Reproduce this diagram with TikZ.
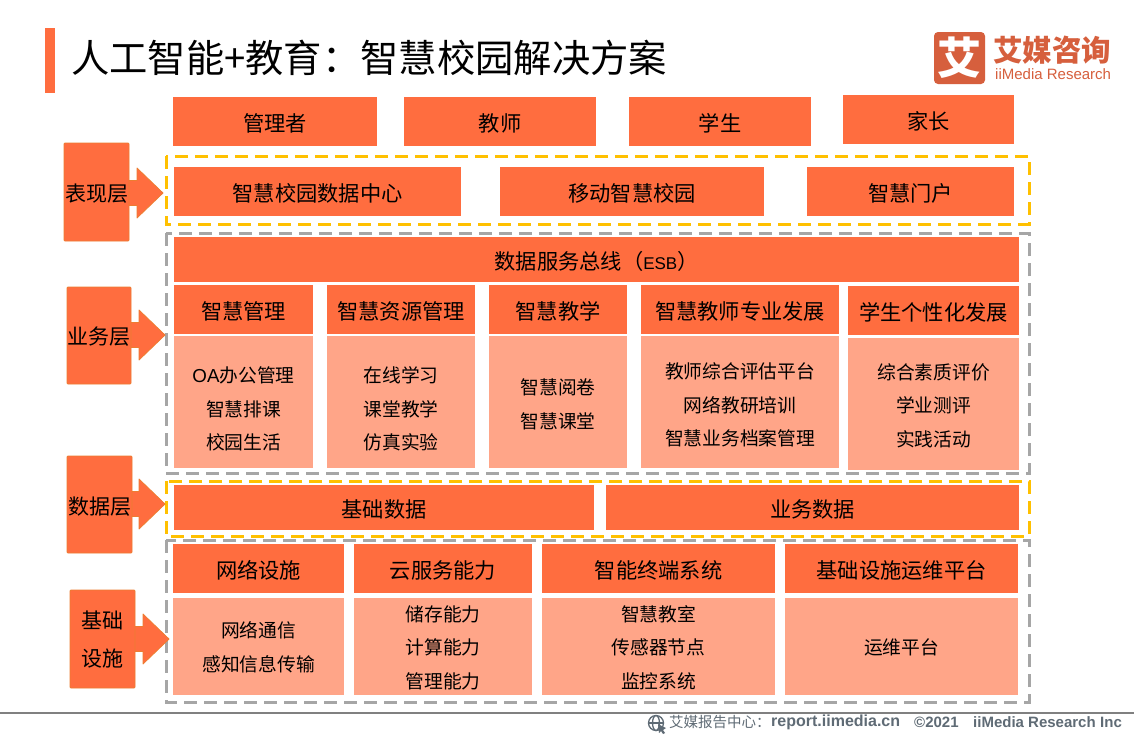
\documentclass[tikz,border=0pt]{standalone}
\usepackage{fontspec}
\setmainfont{Noto Sans CJK SC}
\newfontfamily\latinf{Liberation Sans}
\definecolor{mainor}{HTML}{FF6D3F}
\definecolor{lightor}{HTML}{FFA588}
\definecolor{edgeor}{HTML}{ED7D31}
\definecolor{goldd}{HTML}{FFC000}
\definecolor{greyd}{HTML}{A6A6A6}
\definecolor{logoc}{HTML}{D65F3D}
\definecolor{footc}{HTML}{5F6B75}
\tikzset{
  base/.style={inner sep=0pt,outer sep=0pt,text=black,align=center,font=\fontsize{21.25}{24}\selectfont},
  hbox/.style={base,fill=mainor},
  lbox/.style={base,fill=lightor,font=\fontsize{18.75}{33.5}\selectfont},
  layerbox/.style={base,fill=mainor,draw=edgeor,line width=.8pt,rounded corners=1pt,font=\fontsize{21}{38}\selectfont},
  arrowshape/.style={fill=mainor,draw=edgeor,line width=.8pt,line join=round},
  goldframe/.style={draw=goldd,line width=3pt,dash pattern=on 13pt off 7pt},
  greyframe/.style={draw=greyd,line width=3pt,dash pattern=on 13pt off 7pt},
}
% [text offset] name, x1, y1, x2, y2, style, text
\newcommand{\bx}[8][2]{%
  \pgfmathsetmacro{\bxw}{#5-#3}\pgfmathsetmacro{\bxh}{#6-#4}%
  \node[#7,minimum width=\bxw pt,minimum height=\bxh pt] (#2) at ({(#3+#5)/2},{(#4+#6)/2}) {};
  \node[#7,fill=none,draw=none,yshift=-#1pt] (#2t) at (#2.center) {#8};}
% layer arrow: x of box right, mid y, head base x, tip x
\newcommand{\larrow}[4]{%
  \draw[arrowshape] (#1,#2-12.5) -- (#3,#2-12.5) -- (#3,#2-25) -- (#4,#2) -- (#3,#2+25) -- (#3,#2+12.5) -- (#1,#2+12.5);}
\begin{document}
\begin{tikzpicture}[x=1pt,y=-1pt]
\useasboundingbox (0,0) rectangle (1134,737);
\fill[white] (0,0) rectangle (1134,737);
% title
\fill[mainor] (45,28) rectangle (55,93);
\node[anchor=west,inner sep=0pt,font=\fontsize{38.3}{42}\selectfont] (title) at (71,58) {人工智能+教育：智慧校园解决方案};
% logo
\fill[logoc,rounded corners=4pt] (934,32) rectangle (985,84);
\node[inner sep=0pt,text=white,font=\fontsize{44}{44}\bfseries\selectfont] (logomark) at (959.5,57.5) {艾};
\node[anchor=west,inner sep=0pt,text=logoc,text height=24pt,text depth=4pt,font=\fontsize{29.5}{30}\bfseries\selectfont] (logotxt) at (993,51.9) {艾媒咨询};
\node[anchor=west,inner sep=0pt,text=logoc,text height=11pt,text depth=3pt,font=\latinf\fontsize{15}{15}\selectfont] (logoen) at (995,75) {iiMedia Research};
% frames
\draw[goldframe] (166,156) rectangle (1029,224);
\draw[greyframe] (166,233) rectangle (1029,473);
\draw[greyframe] (166,540) rectangle (1029,702);
\draw[goldframe] (166,481) rectangle (1029,536);
% arrows first, boxes on top
\larrow{129}{193}{137}{163}
\larrow{131}{335}{139}{165}
\larrow{132}{504}{139}{165}
\larrow{135}{639}{143}{169}
\bx{l1}{64}{143}{129}{241}{layerbox}{表现层}
\bx[1]{l2}{67}{287}{131}{384}{layerbox}{业务层}
\bx{l3}{67}{456}{132}{553}{layerbox}{数据层}
\bx[1]{l4}{70}{590}{135}{688}{layerbox}{基础\\设施}
% roles
\bx{r1}{173}{97}{377}{146}{hbox}{管理者}
\bx{r2}{404}{97}{596}{146}{hbox}{教师}
\bx{r3}{629}{97}{811}{146}{hbox}{学生}
\bx{r4}{843}{95}{1014}{144}{hbox}{家长}
% presentation
\bx{p1}{174}{167}{461}{216}{hbox}{智慧校园数据中心}
\bx{p2}{500}{167}{764}{216}{hbox}{移动智慧校园}
\bx{p3}{807}{167}{1014}{216}{hbox}{智慧门户}
% business
\bx{esb}{174}{237}{1019}{282}{hbox}{数据服务总线（{\latinf\fontsize{17}{24}\selectfont ESB}）}
\bx{b1}{174}{285}{313}{334}{hbox}{智慧管理}
\bx{b2}{327}{285}{475}{334}{hbox}{智慧资源管理}
\bx{b3}{489}{285}{627}{334}{hbox}{智慧教学}
\bx{b4}{641}{285}{839}{334}{hbox}{智慧教师专业发展}
\bx{b5}{848}{286}{1019}{335}{hbox}{学生个性化发展}
\bx[7]{c1}{174}{336}{313}{468}{lbox}{{\latinf OA}办公管理\\智慧排课\\校园生活}
\bx[7]{c2}{327}{336}{475}{468}{lbox}{在线学习\\课堂教学\\仿真实验}
\bx[2.5]{c3}{489}{336}{627}{468}{lbox}{智慧阅卷\\智慧课堂}
\bx[3]{c4}{641}{336}{839}{468}{lbox}{教师综合评估平台\\网络教研培训\\智慧业务档案管理}
\bx[1.5]{c5}{848}{338}{1019}{470}{lbox}{综合素质评价\\学业测评\\实践活动}
% data
\bx{d1}{174}{485}{594}{530}{hbox}{基础数据}
\bx{d2}{606}{485}{1019}{530}{hbox}{业务数据}
% infrastructure
\bx{i1}{173}{544}{344}{593}{hbox}{网络设施}
\bx{i2}{354}{544}{532}{593}{hbox}{云服务能力}
\bx{i3}{542}{544}{775}{593}{hbox}{智能终端系统}
\bx{i4}{785}{544}{1018}{593}{hbox}{基础设施运维平台}
\bx[1]{j1}{173}{598}{344}{695}{lbox}{网络通信\\感知信息传输}
\bx[1]{j2}{354}{598}{532}{695}{lbox}{储存能力\\计算能力\\管理能力}
\bx[1]{j3}{542}{598}{775}{695}{lbox}{智慧教室\\传感器节点\\监控系统}
\bx[1]{j4}{785}{598}{1018}{695}{lbox}{运维平台}
% footer
\draw[gray,line width=2pt] (0,712.5) -- (1134,712.5);
\begin{scope}[footc,line width=1.3pt]
\draw (656,723) circle (7.5);
\draw (656,723) ellipse (3.5 and 7.5);
\draw (648.5,723) -- (663.5,723);
\fill (658,724) -- (666,728) -- (663,730) -- (665,733) -- (663,734) -- (661,731) -- (659,733) -- cycle;
\end{scope}
\node[anchor=west,inner sep=0pt,text=footc,font=\fontsize{14.5}{16}\selectfont] (foot) at (669,722.5) {艾媒报告中心：};
\node[anchor=west,inner sep=0pt,text=footc,font=\latinf\fontsize{16}{16}\bfseries\selectfont] (foot1) at (771,722.5) {report.iimedia.cn};
\node[anchor=west,inner sep=0pt,text=footc,font=\latinf\fontsize{15}{16}\bfseries\selectfont] (foot2) at (914,722.5) {©2021};
\node[anchor=west,inner sep=0pt,text=footc,font=\latinf\fontsize{15}{16}\bfseries\selectfont] (foot3) at (973,722.5) {iiMedia Research};
\node[anchor=west,inner sep=0pt,text=footc,font=\latinf\fontsize{15}{16}\bfseries\selectfont] (foot4) at (1100,722.5) {Inc};
\end{tikzpicture}
\end{document}
